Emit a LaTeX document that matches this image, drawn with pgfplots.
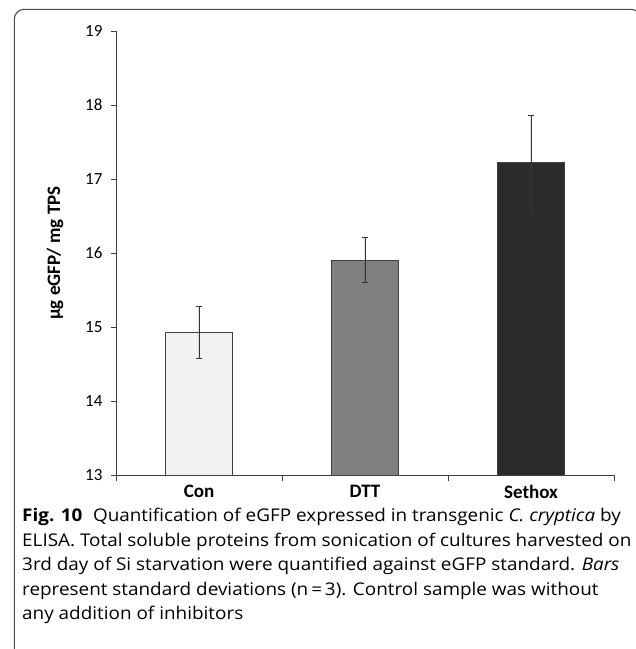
\documentclass[border=0pt]{standalone}
\usepackage{pgfplots}
\pgfplotsset{compat=1.18}
\usepackage{fontspec}
\setmainfont{Carlito}
\newfontfamily\capfont[FakeStretch=1.08]{Open Sans}
\definecolor{conbar}{HTML}{F2F2F2}
\definecolor{dttbar}{HTML}{808080}
\definecolor{sxbar}{HTML}{2B2B2B}
\definecolor{edge}{HTML}{404040}
\begin{document}
\begin{tikzpicture}[x=1pt,y=1pt]
\path[use as bounding box] (0,0) rectangle (636,-649);
\begin{axis}[
    at={(116pt,-475pt)}, anchor=south west,
    scale only axis, width=498pt, height=444pt,
    xmin=-0.5, xmax=2.5, ymin=13, ymax=19,
    axis lines=left, axis line style={-, color=edge, line width=0.8pt},
    ytick={13,...,19},
    xtick={0,1,2}, xticklabels={Con,DTT,Sethox},
    minor xtick={-0.5,0.5,1.5,2.5},
    major x tick style={draw=none},
    minor tick length=6pt, major tick length=5pt,
    tick align=outside,
    tick style={color=edge, line width=0.7pt},
    ticklabel style={font=\fontsize{17}{17}\selectfont},
    x tick label style={font=\fontsize{19}{19}\selectfont\bfseries, yshift=-2pt},
    y tick label style={xshift=-5pt},
    /pgf/number format/assume math mode=true,
    ylabel={µg eGFP/ mg TPS},
    ylabel style={font=\fontsize{19}{19}\selectfont\bfseries, at={(axis description cs:0,0.5)}, anchor=south, yshift=49pt},
    ybar, bar width=67pt, bar shift=0pt,
    every axis plot/.append style={draw=edge, line width=0.8pt},
    error bars/error bar style={color=black!80, line width=0.8pt},
    error bars/error mark options={rotate=90, mark size=3pt, line width=0.8pt},
]
\addplot[fill=conbar, error bars/.cd, y dir=both, y explicit] coordinates {(0,14.93) +- (0,0.355)};
\addplot[fill=dttbar, error bars/.cd, y dir=both, y explicit] coordinates {(1,15.905) +- (0,0.305)};
\addplot[fill=sxbar, error bars/.cd, y dir=both, y explicit] coordinates {(2,17.22) +- (0,0.64)};
\end{axis}
\draw[color=black!70, line width=1.1pt, rounded corners=10pt] (14.3,-655) -- (14.3,-9.3) -- (641,-9.3) -- (641,-655);
\node[anchor=north west, inner sep=0pt, align=left, font=\capfont\fontsize{17.5}{24.6}\selectfont] at (22,-508)
{\textbf{Fig. 10}\hspace{0.6em}Quantification of eGFP expressed in transgenic \textit{C. cryptica} by\\
ELISA. Total soluble proteins from sonication of cultures harvested on\\
3rd day of Si starvation were quantified against eGFP standard. \textit{Bars}\\
represent standard deviations (n\,=\,3). Control sample was without\\
any addition of inhibitors};
\end{tikzpicture}
\end{document}
